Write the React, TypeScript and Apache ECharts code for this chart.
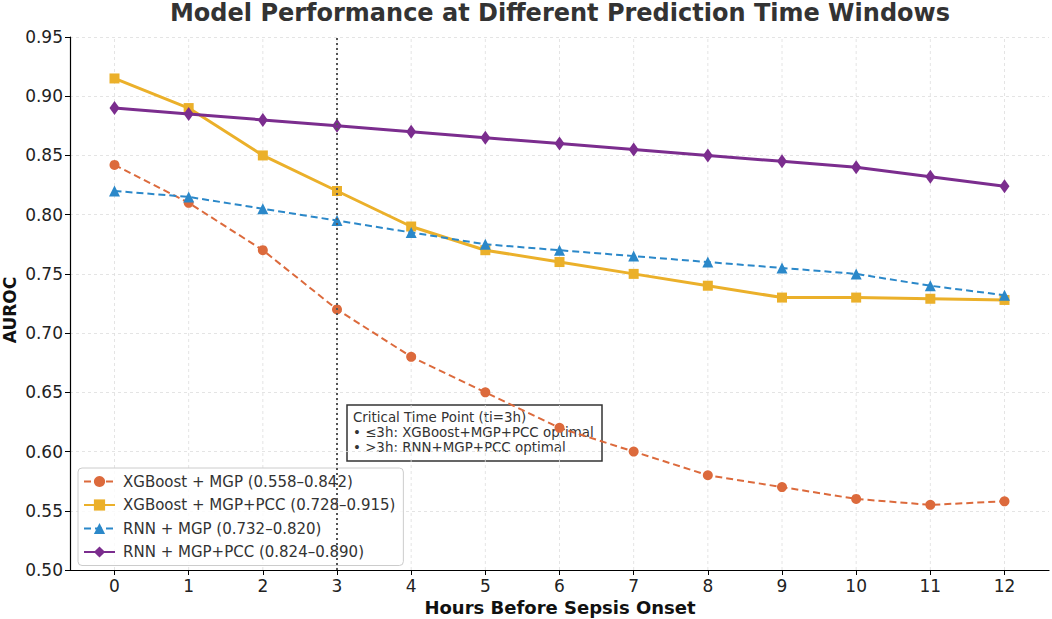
import React, { useEffect, useRef } from "react";
import * as echarts from "echarts";

const hours = [0, 1, 2, 3, 4, 5, 6, 7, 8, 9, 10, 11, 12];
const xgbMgp = [0.842, 0.81, 0.77, 0.72, 0.68, 0.65, 0.62, 0.6, 0.58, 0.57, 0.56, 0.555, 0.558];
const xgbMgpPcc = [0.915, 0.89, 0.85, 0.82, 0.79, 0.77, 0.76, 0.75, 0.74, 0.73, 0.73, 0.729, 0.728];
const rnnMgp = [0.82, 0.815, 0.805, 0.795, 0.785, 0.775, 0.77, 0.765, 0.76, 0.755, 0.75, 0.74, 0.732];
const rnnMgpPcc = [0.89, 0.885, 0.88, 0.875, 0.87, 0.865, 0.86, 0.855, 0.85, 0.845, 0.84, 0.832, 0.824];
const seriesNames = [
  "XGBoost + MGP (0.558–0.842)",
  "XGBoost + MGP+PCC (0.728–0.915)",
  "RNN + MGP (0.732–0.820)",
  "RNN + MGP+PCC (0.824–0.890)",
];
const criticalHour = 3;
const yMin = 0.5;
const yMax = 0.95;
const annotationLines = [
  "Critical Time Point (ti=3h)",
  "• ≤3h: XGBoost+MGP+PCC optimal",
  "• >3h: RNN+MGP+PCC optimal",
];

const FONT = "DejaVu Sans";
const GRID_COLOR = "#dddddd";

export default function App() {
  const ref = useRef<HTMLDivElement>(null);
  useEffect(() => {
    document.body.style.margin = "0";
    const chart = echarts.init(ref.current!, null, { renderer: "svg" });
    const pair = (arr: number[]) => hours.map((h, i) => [h, arr[i]]);
    const vlineSeries = (name: string, xs: number[], z: number, style: any) => ({
      name,
      type: "custom",
      silent: true,
      z,
      data: xs.map((x) => [x]),
      encode: { x: 0 },
      renderItem: (params: any, api: any) => {
        const x = api.value(0);
        const p1 = api.coord([x, yMin]);
        const p2 = api.coord([x, yMax]);
        return {
          type: "line",
          shape: { x1: p1[0], y1: p1[1], x2: p2[0], y2: p2[1] },
          style,
        };
      },
    });
    const option: any = {
      animation: false,
      backgroundColor: "#ffffff",
      textStyle: { fontFamily: FONT },
      grid: { left: 70, right: 3, top: 37, bottom: 49, containLabel: false },
      xAxis: {
        type: "value",
        min: -0.6,
        max: 12.6,
        axisLine: { show: true, onZero: false, lineStyle: { color: "#000", width: 1.2 } },
        axisTick: { show: true, customValues: hours, length: 5, lineStyle: { color: "#000", width: 1 } },
        axisLabel: { customValues: hours, fontSize: 17, color: "#222", margin: 7, fontFamily: FONT },
        splitLine: { show: false },
      },
      yAxis: {
        type: "value",
        min: yMin,
        max: yMax,
        interval: 0.05,
        axisLine: { show: true, onZero: false, lineStyle: { color: "#000", width: 1.2 } },
        axisTick: { show: true, length: 5, lineStyle: { color: "#000", width: 1 } },
        axisLabel: {
          fontSize: 17,
          color: "#222",
          margin: 7,
          fontFamily: FONT,
          formatter: (v: number) => v.toFixed(2),
        },
        splitLine: { show: true, lineStyle: { color: GRID_COLOR, width: 0.8, type: [3, 3] } },
      },
      legend: {
        data: seriesNames,
        orient: "vertical",
        left: 78,
        top: 468,
        itemWidth: 31,
        itemHeight: 14,
        itemGap: 8.5,
        padding: [6, 8, 6, 5],
        backgroundColor: "rgba(255,255,255,0.8)",
        borderColor: "#cccccc",
        borderWidth: 1,
        borderRadius: 4,
        textStyle: { fontSize: 15, color: "#333", fontFamily: FONT, padding: [0, 0, 0, 3] },
      },
      series: [
        vlineSeries("vgrid", hours, 1, { stroke: GRID_COLOR, lineWidth: 0.8, lineDash: [3, 3] }),
        {
          name: seriesNames[0],
          type: "line",
          data: pair(xgbMgp),
          z: 3,
          symbol: "circle",
          symbolSize: 10,
          itemStyle: { color: "#DC6A3C" },
          lineStyle: { color: "#DC6A3C", width: 2, type: [7, 4] },
        },
        {
          name: seriesNames[1],
          type: "line",
          data: pair(xgbMgpPcc),
          z: 4,
          symbol: "rect",
          symbolSize: 10,
          itemStyle: { color: "#EBB02A" },
          lineStyle: { color: "#EBB02A", width: 3 },
        },
        {
          name: seriesNames[2],
          type: "line",
          data: pair(rnnMgp),
          z: 5,
          symbol: "triangle",
          symbolSize: 11,
          itemStyle: { color: "#2B88C9" },
          lineStyle: { color: "#2B88C9", width: 2, type: [7, 4] },
        },
        {
          name: seriesNames[3],
          type: "line",
          data: pair(rnnMgpPcc),
          z: 6,
          symbol: "diamond",
          symbolSize: [10, 14],
          itemStyle: { color: "#7B2D8E" },
          lineStyle: { color: "#7B2D8E", width: 3 },
        },
        vlineSeries("critical", [criticalHour], 8, { stroke: "#555", lineWidth: 2, lineDash: [2, 3] }),
      ],
      graphic: [
        {
          type: "text",
          x: 560,
          y: 13,
          style: {
            text: "Model Performance at Different Prediction Time Windows",
            font: `bold 24px "${FONT}"`,
            fill: "#333",
            align: "center",
            verticalAlign: "middle",
          },
        },
        {
          type: "text",
          x: 560,
          y: 607,
          style: {
            text: "Hours Before Sepsis Onset",
            font: `bold 18px "${FONT}"`,
            fill: "#111",
            align: "center",
            verticalAlign: "middle",
          },
        },
        {
          type: "text",
          x: 10,
          y: 310,
          rotation: Math.PI / 2,
          style: {
            text: "AUROC",
            font: `bold 17px "${FONT}"`,
            fill: "#111",
            align: "center",
            verticalAlign: "middle",
          },
        },
        {
          type: "group",
          x: 347,
          y: 405,
          z: 100,
          children: [
            {
              type: "rect",
              shape: { x: 0, y: 0, width: 255, height: 56 },
              style: { fill: "rgba(255,255,255,0.8)", stroke: "#333", lineWidth: 1.5 },
            },
            ...annotationLines.map((t, i) => ({
              type: "text",
              x: 6,
              y: 12 + i * 15,
              style: {
                text: t,
                font: `13.4px "${FONT}"`,
                fill: "#333",
                align: "left",
                verticalAlign: "middle",
              },
            })),
          ],
        },
      ],
    };
    chart.setOption(option);
    return () => chart.dispose();
  }, []);
  return <div ref={ref} style={{ width: 1052, height: 619 }} />;
}
